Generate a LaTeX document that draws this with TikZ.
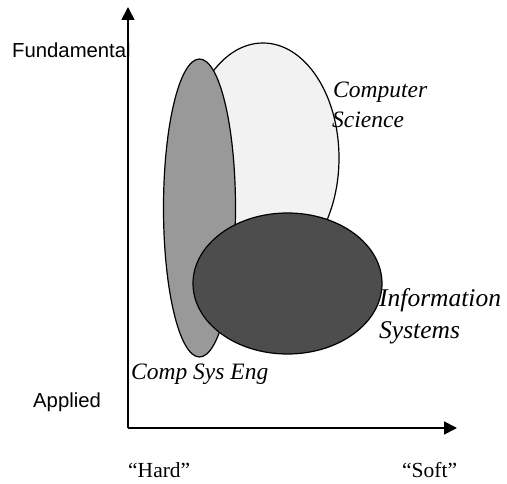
\documentclass[tikz,border=0pt]{standalone}
\usepackage{fontspec}
\setmainfont{Liberation Serif}
\newfontfamily\arialfont{Liberation Sans}
\usetikzlibrary{shapes.geometric,arrows.meta}
\definecolor{cslight}{HTML}{F2F2F2}
\definecolor{csegray}{HTML}{999999}
\definecolor{isdark}{HTML}{4D4D4D}
\tikzset{
  blob/.style={ellipse, draw=black, line width=1.2pt, inner sep=0pt},
  axisline/.style={line width=1.6pt, -{Triangle[length=13pt,width=13pt]}},
  labelit/.style={anchor=base west, inner sep=0pt, font=\fontsize{23.5}{30}\selectfont\itshape},
  labelitbig/.style={anchor=base west, inner sep=0pt, font=\fontsize{25.5}{30}\selectfont\itshape},
  labelrm/.style={anchor=base west, inner sep=0pt, font=\fontsize{21.5}{26}\selectfont},
  labelsf/.style={anchor=base west, inner sep=0pt, font=\arialfont\fontsize{20.3}{24}\selectfont},
}
\begin{document}
\begin{tikzpicture}[x=1pt,y=-1pt]
\useasboundingbox (0,0) rectangle (507,484);
% ellipses
\node[blob, fill=cslight, minimum width=152pt, minimum height=230pt] (cs) at (263,158) {};
\node[blob, fill=csegray, minimum width=72pt, minimum height=298pt] (cse) at (199.5,208) {};
\node[blob, fill=isdark, minimum width=189pt, minimum height=141pt] (is) at (287.5,283.5) {};
% axes
\coordinate (origin) at (128,428);
\coordinate (ytop) at (128,7);
\coordinate (xend) at (457,428);
\draw[axisline] (origin) -- (ytop);
\draw[axisline] (origin) -- (xend);
% labels
\node[labelsf] (fund) at (12,58) {Fundamental};
\node[labelsf] (appl) at (33,407) {Applied};
\node[labelrm] (hard) at (128,477) {“Hard”};
\node[labelrm] (soft) at (402,477) {“Soft”};
\node[labelit] (comp) at (333,98) {Computer};
\node[labelit] (sci) at (332,128) {Science};
\node[labelitbig] (info) at (379,307) {Information};
\node[labelitbig] (sys) at (379,338) {Systems};
\node[labelit] (cseng) at (131,380) {Comp Sys Eng};
\end{tikzpicture}
\end{document}
